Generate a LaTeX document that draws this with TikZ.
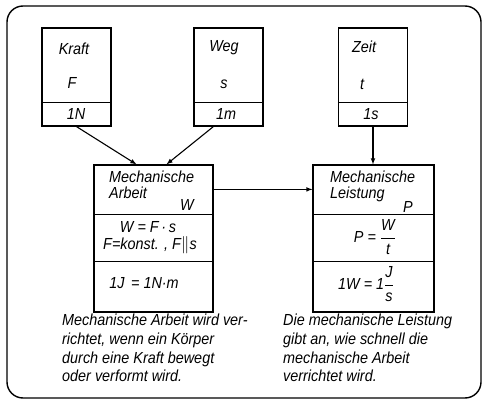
\documentclass[tikz,border=0pt]{standalone}
\usepackage{amsmath}
\usepackage{fontspec}
\setmainfont{Liberation Sans}[FakeStretch=0.9]
\usetikzlibrary{arrows,calc}
\tikzstyle{smallbox} = [draw, line width=1.2pt, minimum width=69pt, minimum height=98pt, inner sep=0pt]
\tikzstyle{bigbox} = [draw, line width=1.2pt, minimum height=147pt, inner sep=0pt]
\tikzstyle{lbl} = [font=\fontsize{16}{15.5}\selectfont\itshape, inner sep=0pt]
\tikzstyle{para} = [font=\fontsize{16}{18.7}\selectfont\itshape, inner sep=0pt, align=left, anchor=north west]

\begin{document}
\begin{tikzpicture}[x=1pt,y=-1pt]
\useasboundingbox (0,0) rectangle (485,401);
\draw[line width=1.4pt, rounded corners=16pt] (7,6) rectangle (481,398);

    % Grundgroessen
	\node[smallbox] (kraft) at (76.5,77) {};
	\node[smallbox] (weg) at (228.5,77) {};
	\node[smallbox] (zeit) at (373,77) {};
	\draw[line width=1.2pt] ($(kraft.south west)+(0,-24)$) -- ($(kraft.south east)+(0,-24)$);
	\draw[line width=1.2pt] ($(weg.south west)+(0,-24)$) -- ($(weg.south east)+(0,-24)$);
	\draw[line width=1.2pt] ($(zeit.south west)+(0,-24)$) -- ($(zeit.south east)+(0,-24)$);

	\node[lbl] (kraftname) at (74,49) {Kraft};
	\node[lbl] (kraftsym) at (72,83) {F};
	\node[lbl] (kraftunit) at (76,114) {1N};
	\node[lbl] (wegname) at (224,48) {Weg};
	\node[lbl] (wegsym) at (224,84) {s};
	\node[lbl] (wegunit) at (226,114) {1m};
	\node[lbl] (zeitname) at (364,47) {Zeit};
	\node[lbl] (zeitsym) at (362,84) {t};
	\node[lbl] (zeitunit) at (371,114) {1s};

    % abgeleitete Groessen
	\node[bigbox, minimum width=119pt] (arbeit) at (153.5,238.5) {};
	\node[bigbox, minimum width=121pt] (leistung) at (373.5,238.5) {};
	\draw[line width=1.2pt] ($(arbeit.north west)+(0,50)$) -- ($(arbeit.north east)+(0,50)$);
	\draw[line width=1.2pt] ($(arbeit.north west)+(0,97)$) -- ($(arbeit.north east)+(0,97)$);
	\draw[line width=1.2pt] ($(leistung.north west)+(0,50)$) -- ($(leistung.north east)+(0,50)$);
	\draw[line width=1.2pt] ($(leistung.north west)+(0,97)$) -- ($(leistung.north east)+(0,97)$);

	\node[lbl, align=left, anchor=north west] (arbeitname) at (109,171) {Mechanische\\Arbeit};
	\node[lbl] (arbeitsym) at (187,205) {W};
	\node[lbl] (arbeitformel) at (148,227) {W = F\,·\,s};
	\node[lbl] (arbeitbed) at (150,245) {F=konst. , F$\parallel$s};
	\node[lbl] (arbeitunit) at (144,283) {1J \,= 1N·m};

	\node[lbl, align=left, anchor=north west] (leistungname) at (330,171) {Mechanische\\Leistung};
	\node[lbl] (leistungsym) at (408,207) {P};
	\node[lbl] (leistungformel) at (375,237) {P = $\dfrac{\text{\itshape W}}{\text{\itshape t}}$};
	\node[lbl] (leistungunit) at (366,284) {1W = 1$\dfrac{\text{\itshape J}}{\text{\itshape s}}$};

    % Pfeile
	\coordinate (wegout) at ($(weg.south west)+(20,0)$);
	\draw[line width=1.1pt,-latex] (kraft.south) -- ($(arbeit.north)+(-17,0)$);
	\draw[line width=1.1pt,-latex] (wegout) -- ($(arbeit.north)+(13,0)$);
	\draw[line width=1.1pt,-latex] (zeit.south) -- (zeit.south |- leistung.north);
	\draw[line width=1.1pt,-latex] ($(arbeit.north east)+(0,25)$) -- ($(leistung.north west)+(0,25)$);

    % Erklaerungen
	\node[para] (arbeittext) at (62,314) {Mechanische Arbeit wird ver-\\richtet, wenn ein Körper\\durch eine Kraft bewegt\\oder verformt wird.};
	\node[para] (leistungtext) at (283,314) {Die mechanische Leistung\\gibt an, wie schnell die\\mechanische Arbeit\\verrichtet wird.};
\end{tikzpicture}
\end{document}
